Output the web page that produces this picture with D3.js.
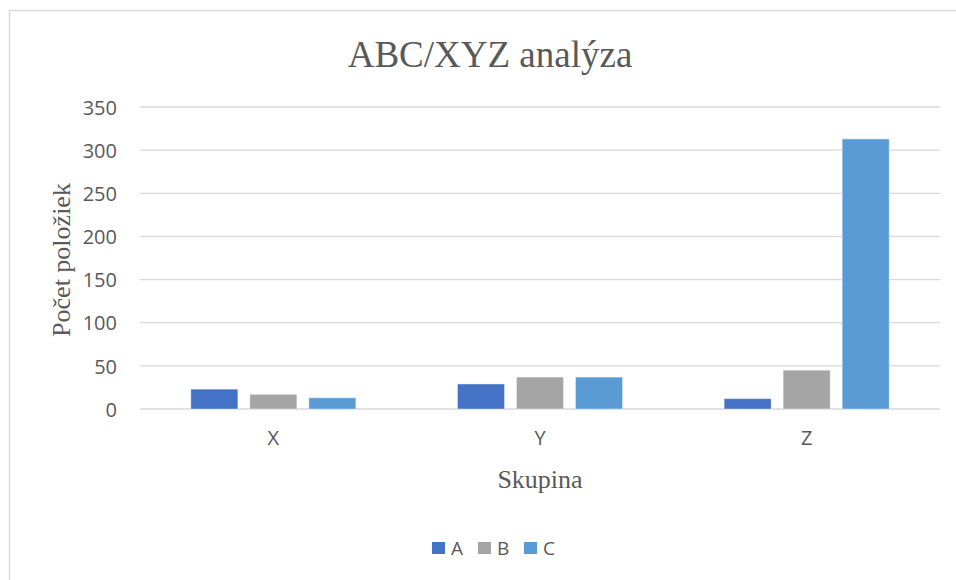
<!DOCTYPE html>
<html>
<head>
<meta charset="utf-8">
<script src="https://cdn.jsdelivr.net/npm/d3@7"></script>
<style>
  html, body { margin: 0; padding: 0; background: #ffffff; }
  svg { display: block; }
</style>
</head>
<body>
<div id="chart"></div>
<script>
const categories = ['X', 'Y', 'Z'];
const seriesNames = ['A', 'B', 'C'];
const valuesA = [23, 29, 12];
const valuesB = [17, 37, 45];
const valuesC = [13, 37, 313];
const yTicks = [0, 50, 100, 150, 200, 250, 300, 350];

const colors = { A: '#4472C4', B: '#A5A5A5', C: '#5B9BD5' };
const seriesValues = { A: valuesA, B: valuesB, C: valuesC };

const width = 956;
const height = 580;
const plot = { left: 140, right: 940, top: 107, bottom: 409 };
const sansFont = '"Open Sans", "Liberation Sans", sans-serif';
const serifFont = '"Liberation Serif", "DejaVu Serif", serif';

const svg = d3.select('#chart').append('svg')
    .attr('width', width)
    .attr('height', height);

// chart frame
svg.append('rect')
    .attr('x', 9.5).attr('y', 10.5)
    .attr('width', 970).attr('height', 600)
    .attr('fill', '#ffffff')
    .attr('stroke', '#D9D9D9')
    .attr('stroke-width', 1.5);

const x0 = d3.scaleBand().domain(categories).range([plot.left, plot.right]).padding(0);
const groupW = x0.bandwidth() * 0.619;
const x1 = d3.scaleBand().domain(seriesNames)
    .range([(x0.bandwidth() - groupW) / 2, (x0.bandwidth() + groupW) / 2])
    .paddingInner(0.203).paddingOuter(0);
const y = d3.scaleLinear().domain([0, 350]).range([plot.bottom, plot.top]);

// gridlines
svg.append('g')
    .selectAll('line')
    .data(yTicks)
    .join('line')
    .attr('x1', plot.left).attr('x2', plot.right)
    .attr('y1', (d) => y(d)).attr('y2', (d) => y(d))
    .attr('stroke', '#D9D9D9')
    .attr('stroke-width', 1.3);

// y tick labels
const yAxis = svg.append('g')
    .attr('transform', `translate(${plot.left},0)`)
    .call(d3.axisLeft(y).tickValues(yTicks).tickSize(0).tickPadding(23));
yAxis.select('.domain').remove();
yAxis.selectAll('text')
    .attr('fill', '#595959')
    .attr('font-family', sansFont)
    .attr('font-size', 20)
    .attr('dy', '0.36em');

// x tick labels
const xAxis = svg.append('g')
    .attr('transform', `translate(0,${plot.bottom})`)
    .call(d3.axisBottom(x0).tickSize(0));
xAxis.select('.domain').remove();
xAxis.selectAll('text')
    .attr('fill', '#595959')
    .attr('font-family', sansFont)
    .attr('font-size', 20)
    .attr('dy', null)
    .attr('y', 36);

// bars
const groups = svg.append('g')
    .selectAll('g')
    .data(categories)
    .join('g')
    .attr('transform', (c) => `translate(${x0(c)},0)`);

groups.selectAll('rect')
    .data((c, i) => seriesNames.map((s) => ({ s, v: seriesValues[s][i] })))
    .join('rect')
    .attr('x', (d) => x1(d.s))
    .attr('y', (d) => y(d.v))
    .attr('width', x1.bandwidth())
    .attr('height', (d) => y(0) - y(d.v))
    .attr('fill', (d) => colors[d.s])
    .attr('stroke', '#ffffff')
    .attr('stroke-opacity', 0.4)
    .attr('stroke-width', 1);

// title
svg.append('text')
    .attr('x', 490).attr('y', 67)
    .attr('text-anchor', 'middle')
    .attr('fill', '#595959')
    .attr('font-family', serifFont)
    .attr('font-size', 37)
    .text('ABC/XYZ analýza');

// axis titles
svg.append('text')
    .attr('transform', `translate(70,${(plot.top + plot.bottom) / 2 + 2}) rotate(-90)`)
    .attr('text-anchor', 'middle')
    .attr('fill', '#595959')
    .attr('font-family', serifFont)
    .attr('font-size', 26)
    .text('Počet položiek');

svg.append('text')
    .attr('x', (plot.left + plot.right) / 2).attr('y', 488)
    .attr('text-anchor', 'middle')
    .attr('fill', '#595959')
    .attr('font-family', serifFont)
    .attr('font-size', 26)
    .text('Skupina');

// legend
const legendX = [432, 478, 524];
const legend = svg.append('g')
    .selectAll('g')
    .data(seriesNames)
    .join('g')
    .attr('transform', (s, i) => `translate(${legendX[i]},542)`);
legend.append('rect')
    .attr('width', 13).attr('height', 12)
    .attr('fill', (s) => colors[s]);
legend.append('text')
    .attr('x', 19).attr('y', 13)
    .attr('fill', '#595959')
    .attr('font-family', sansFont)
    .attr('font-size', 19)
    .text((s) => s);
</script>
</body>
</html>
